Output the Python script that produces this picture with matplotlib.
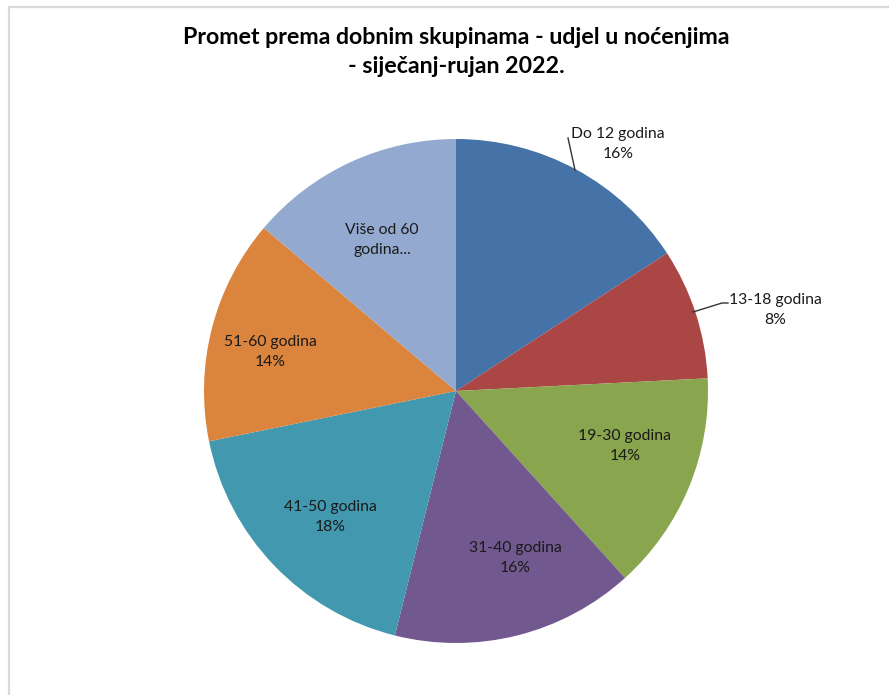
import matplotlib
matplotlib.use("Agg")
import matplotlib.pyplot as plt
from matplotlib.lines import Line2D

# ---- data ----
categories = ["Do 12 godina", "13-18 godina", "19-30 godina", "31-40 godina",
              "41-50 godina", "51-60 godina", "Više od 60 godina"]
values = [15.8, 8.4, 14.1, 15.6, 17.9, 14.4, 13.8]
display_names = ["Do 12 godina", "13-18 godina", "19-30 godina", "31-40 godina",
                 "41-50 godina", "51-60 godina", "Više od 60\ngodina..."]
show_pct = [True, True, True, True, True, True, False]
title = "Promet prema dobnim skupinama - udjel u noćenjima\n- siječanj-rujan 2022."

colors = ["#4572A7", "#AA4643", "#89A54E", "#71588F", "#4198AF", "#DB843D", "#93A9CF"]

W, H = 889, 695
fig = plt.figure(figsize=(W / 100, H / 100), dpi=100)
ax = fig.add_axes([0, 0, 1, 1])
ax.set_xlim(0, W)
ax.set_ylim(0, H)
ax.set_aspect("equal")
ax.axis("off")

cx, cy, r = 456, H - 391, 252
ax.pie(values, colors=colors, startangle=90, counterclock=False,
       center=(cx, cy), radius=r, frame=True,
       wedgeprops=dict(linewidth=0))
ax.set_xlim(0, W)
ax.set_ylim(0, H)
ax.axis("off")

FONT = "Lato"
# label layout (pixel positions, top-down)
label_pos = [(618, 144), (775, 310), (625, 446), (515, 558), (330, 517), (270, 352), (382, 240)]
for name, v, sp, (px, py) in zip(display_names, values, show_pct, label_pos):
    txt = name + (f"\n{round(v)}%" if sp else "")
    ax.text(px, H - py, txt, ha="center", va="center", fontsize=11.3,
            family=FONT, color="#1a1a1a", linespacing=1.5)

# leader lines
ax.add_line(Line2D([568, 575], [H - 138, H - 170], color="#333333", lw=1))
ax.add_line(Line2D([693, 722, 728], [H - 312, H - 303, H - 303], color="#333333", lw=1))

fig.text(456 / W, 1 - 52 / H, title, ha="center", va="center", fontsize=16.7,
         fontweight="bold", family=FONT, color="#000000", linespacing=1.5)

# chart border (top and left)
fig.add_artist(Line2D([8.5 / W, 1], [1 - 6.5 / H, 1 - 6.5 / H], transform=fig.transFigure,
                      color="#d9d9d9", lw=1.6))
fig.add_artist(Line2D([8.5 / W, 8.5 / W], [0, 1 - 6.5 / H], transform=fig.transFigure,
                      color="#d9d9d9", lw=1.6))

fig.savefig("out.png", dpi=100, facecolor="white")
